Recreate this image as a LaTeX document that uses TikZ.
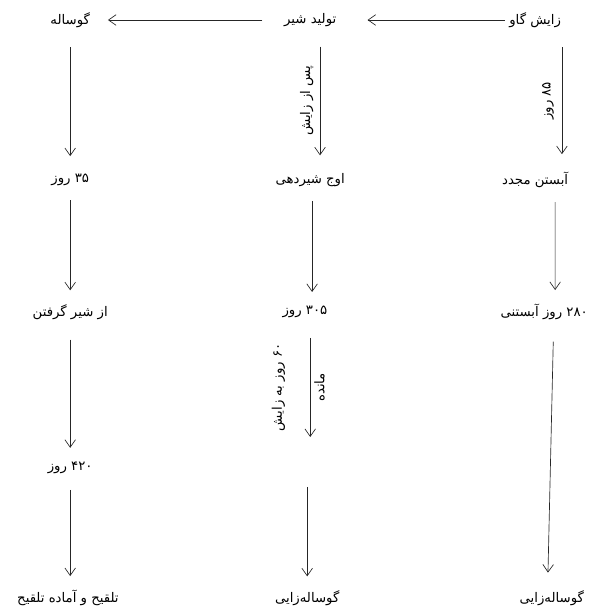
\documentclass[tikz,border=0pt]{standalone}
\usepackage{fontspec}
\newfontfamily\persianfont[Script=Arabic]{DejaVu Sans}
\TeXXeTstate=1
\usetikzlibrary{arrows.meta, positioning}

\begin{document}
\begin{tikzpicture}[
    fa/.style={font=\persianfont\normalsize, inner sep=2pt,
        execute at begin node=\beginR, execute at end node=\endR},
    note/.style={fa, rotate=90},
    flow/.style={-{Straight Barb[length=2mm, width=2.8mm]}, line width=0.5pt, draw=black!85},
]

% Frame of the picture
\useasboundingbox (0,0) rectangle (15.85,-16.19);

% Define stages (nodes)
\node[fa] (calf)     at (1.86,-0.53)  {گوساله};
\node[fa] (milk)     at (8.22,-0.53)  {تولید شیر};
\node[fa] (calving)  at (14.18,-0.53) {زایش گاو};
\node[fa] (days35)   at (1.86,-4.77)  {۳۵ روز};
\node[fa] (peak)     at (8.22,-4.77)  {اوج شیردهی};
\node[fa] (rebreed)  at (14.18,-4.77) {آبستن مجدد};
\node[fa] (weaning)  at (1.86,-8.27)  {از شیر گرفتن};
\node[fa] (days305)  at (8.08,-8.27)  {۳۰۵ روز};
\node[fa] (preg280)  at (14.42,-8.27) {۲۸۰ روز آبستنی};
\node[fa] (days420)  at (1.86,-12.40) {۴۲۰ روز};
\node[fa] (insem)    at (1.80,-15.85) {تلقیح و آماده تلقیح};
\node[fa] (calvingB) at (8.14,-15.85) {گوساله‌زایی};
\node[fa] (calvingC) at (14.62,-15.85) {گوساله‌زایی};

% Free ends of the broken middle arrow
\coordinate (gapA) at (8.22,-11.58);
\coordinate (gapB) at (8.14,-12.90);

% Define connections (edges)
\draw[flow] ([xshift=-0.05cm]calving.west) -- ([xshift=0.75cm]milk.east);
\draw[flow] ([xshift=-0.5cm]milk.west) -- ([xshift=0.4cm]calf.east);

\draw[flow] ([yshift=-0.45cm]calf.south) -- ([yshift=0.4cm]days35.north);
\draw[flow] ([yshift=-0.3cm]days35.south) -- ([yshift=0.3cm]weaning.north);
\draw[flow] ([yshift=-0.45cm]weaning.south) -- ([yshift=0.3cm]days420.north);
\draw[flow] ([yshift=-0.35cm]days420.south) -- ([yshift=0.3cm]days420.south |- insem.north);

\draw[flow] ([xshift=0.26cm, yshift=-0.45cm]milk.south) -- node[note, anchor=south, outer sep=3pt] {پس از زایش} ([xshift=0.26cm, yshift=0.4cm]peak.north);
\draw[flow] ([xshift=0.05cm, yshift=-0.3cm]peak.south) -- ([xshift=0.19cm, yshift=0.3cm]days305.north);
\draw[flow] ([xshift=0.14cm, yshift=-0.45cm]days305.south) -- node[note, anchor=south, outer sep=17pt] {۶۰ روز به زایش} node[note, anchor=north, outer sep=1pt] {مانده} (gapA);
\draw[flow] (gapB) -- ([yshift=0.3cm]calvingB.north);

\draw[flow] ([xshift=0.71cm, yshift=-0.45cm]calving.south) -- node[note, anchor=south, outer sep=4pt] {۸۵ روز} ([xshift=0.71cm, yshift=0.4cm]rebreed.north);
\draw[flow] ([xshift=0.53cm, yshift=-0.3cm]rebreed.south) -- ([xshift=0.29cm, yshift=0.3cm]preg280.north);
\draw[flow] ([xshift=0.24cm, yshift=-0.5cm]preg280.south) -- ([xshift=-0.1cm, yshift=0.4cm]calvingC.north);

\end{tikzpicture}
\end{document}
